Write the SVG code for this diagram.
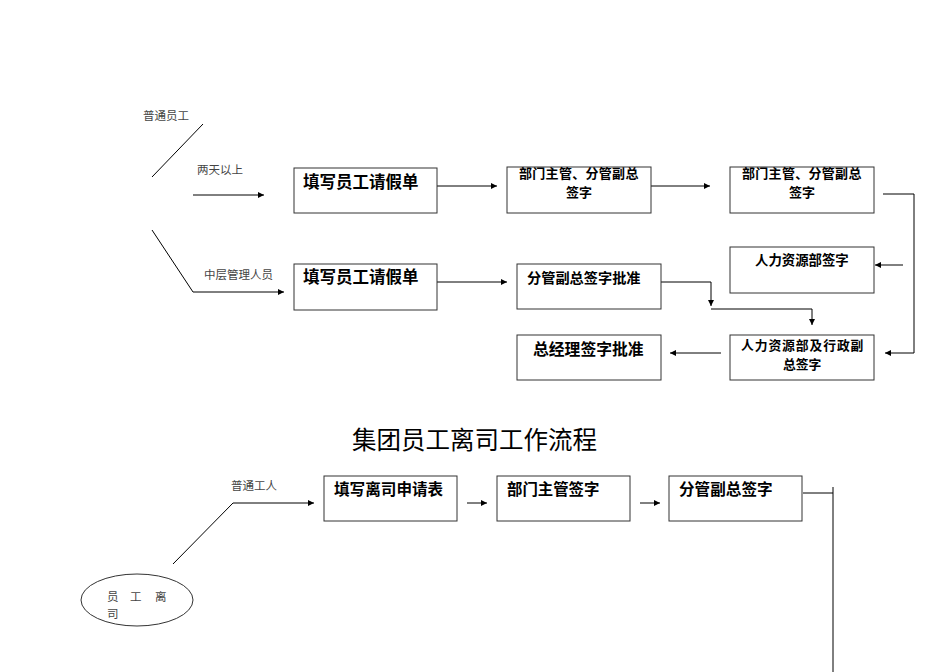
<svg xmlns="http://www.w3.org/2000/svg" width="950" height="672" viewBox="0 0 950 672">
<style>
.box{fill:#fff;stroke:#333;stroke-width:1}
.t{font-family:"Noto Sans CJK SC","Liberation Sans",sans-serif;font-weight:bold;fill:#000}
.lbl{font-family:"Noto Sans CJK SC","Liberation Serif",serif;font-size:11.5px;fill:#444}
.ln{fill:none;stroke:#000;stroke-width:1}
.title{font-family:"Noto Sans CJK SC","Liberation Sans",sans-serif;font-size:24.5px;fill:#000}
</style>
<defs>
<marker id="ah" viewBox="0 0 10 10" refX="10" refY="5" markerWidth="8" markerHeight="6" markerUnits="userSpaceOnUse" orient="auto">
<path d="M0,0 L10,5 L0,10 z" fill="#000"/>
</marker>
</defs>
<rect width="950" height="672" fill="#fff"/>

<g id="connectors">
<line class="ln" x1="152" y1="177" x2="203" y2="124"/>
<line class="ln" x1="193" y1="195" x2="264" y2="195" marker-end="url(#ah)"/>
<polyline class="ln" points="152,230 193,292 284,292" marker-end="url(#ah)"/>
<line class="ln" x1="437" y1="186" x2="497" y2="186" marker-end="url(#ah)"/>
<line class="ln" x1="651" y1="186" x2="710" y2="186" marker-end="url(#ah)"/>
<polyline class="ln" points="883,194 914,194 914,353 885,353" marker-end="url(#ah)"/>
<line class="ln" x1="903" y1="265" x2="875" y2="265" marker-end="url(#ah)"/>
<line class="ln" x1="437" y1="282" x2="507" y2="282" marker-end="url(#ah)"/>
<polyline class="ln" points="661,282 711,282 711,306" marker-end="url(#ah)"/>
<polyline class="ln" points="711,309 812,309 812,325" marker-end="url(#ah)"/>
<line class="ln" x1="721" y1="353" x2="670" y2="353" marker-end="url(#ah)"/>
<polyline class="ln" points="173,564 233,503 314,503" marker-end="url(#ah)"/>
<line class="ln" x1="467" y1="503" x2="487" y2="503" marker-end="url(#ah)"/>
<line class="ln" x1="640" y1="503" x2="660" y2="503" marker-end="url(#ah)"/>
<polyline class="ln" points="803,493 833,493"/>
<line class="ln" x1="833" y1="487" x2="833" y2="672"/>
</g>

<g id="labels">
<text class="lbl" x="143" y="120">普通员工</text>
<text class="lbl" x="197" y="174">两天以上</text>
<text class="lbl" x="204" y="279">中层管理人员</text>
<text class="lbl" x="231" y="490">普通工人</text>
</g>

<g id="n1"><rect class="box" x="294" y="168" width="143" height="45"/><text class="t" x="303" y="188" font-size="16.5">填写员工请假单</text></g>
<g id="n2"><rect class="box" x="507" y="167" width="144" height="46"/><text class="t" x="519" y="178" font-size="13" letter-spacing="0.3">部门主管、分管副总</text><text class="t" x="566" y="197" font-size="13">签字</text></g>
<g id="n3"><rect class="box" x="730" y="167" width="144" height="46"/><text class="t" x="742" y="178" font-size="13" letter-spacing="0.3">部门主管、分管副总</text><text class="t" x="789" y="197" font-size="13">签字</text></g>
<g id="n4"><rect class="box" x="730" y="247" width="144" height="46"/><text class="t" x="755" y="265" font-size="13.4">人力资源部签字</text></g>
<g id="n5"><rect class="box" x="294" y="264" width="143" height="46"/><text class="t" x="303" y="283" font-size="16.5">填写员工请假单</text></g>
<g id="n6"><rect class="box" x="517" y="264" width="144" height="45"/><text class="t" x="527" y="283" font-size="14.2">分管副总签字批准</text></g>
<g id="n7"><rect class="box" x="517" y="335" width="144" height="45"/><text class="t" x="533" y="355" font-size="15.8">总经理签字批准</text></g>
<g id="n8"><rect class="box" x="730" y="335" width="144" height="45"/><text class="t" x="741" y="350" font-size="12.8" letter-spacing="0.9">人力资源部及行政副</text><text class="t" x="783" y="369" font-size="12.8">总签字</text></g>

<g id="title"><text class="title" x="352" y="449">集团员工离司工作流程</text></g>

<g id="m1"><rect class="box" x="324" y="476" width="133" height="45"/><text class="t" x="334" y="495" font-size="15.6">填写离司申请表</text></g>
<g id="m2"><rect class="box" x="497" y="476" width="133" height="45"/><text class="t" x="507" y="495" font-size="15.4">部门主管签字</text></g>
<g id="m3"><rect class="box" x="669" y="476" width="133" height="45"/><text class="t" x="679" y="495" font-size="15.6">分管副总签字</text></g>
<g id="e1"><ellipse cx="137" cy="600" rx="56" ry="26" fill="#fff" stroke="#333"/><text class="lbl" font-size="13" fill="#222" x="107 120 130 143 155" y="601">员 工 离</text><text class="lbl" font-size="13" fill="#222" x="107" y="618">司</text></g>
</svg>
